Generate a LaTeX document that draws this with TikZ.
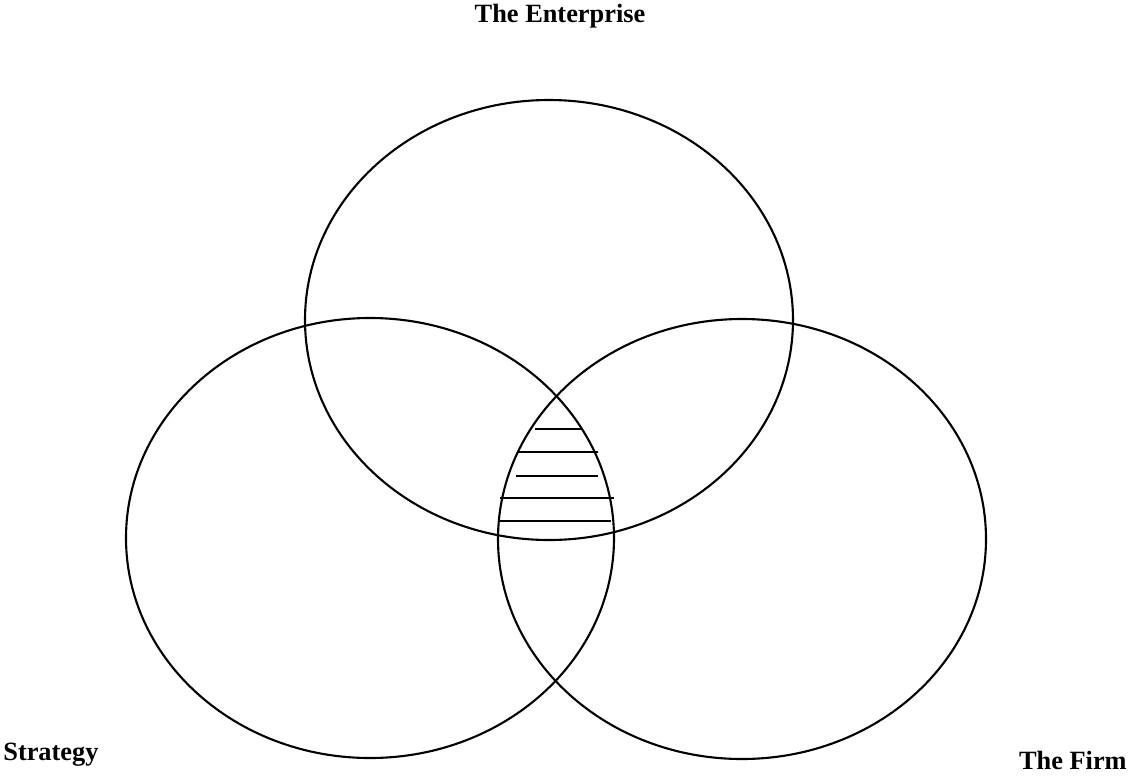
\documentclass[tikz,border=0pt]{standalone}
\usepackage{fontspec}
\setmainfont{Liberation Serif}
\usetikzlibrary{positioning}
\tikzset{
  rotulo/.style={font=\fontsize{15}{17}\selectfont\bfseries, inner sep=0pt},
  contorno/.style={line width=1.2pt},
  hachura/.style={line width=1.2pt}
}
\begin{document}
\begin{tikzpicture}[x=0.02cm, y=-0.02cm]
  \useasboundingbox (0,0) rectangle (1132,778);
  % elipses
  \draw[contorno] (549,320) ellipse (244 and 220);
  \draw[contorno] (370,538) ellipse (244 and 220);
  \draw[contorno] (742,539) ellipse (244 and 220);
  % hachura na intersecao
  \draw[hachura] (535,429) -- (582,429);
  \draw[hachura] (517,452) -- (598,452);
  \draw[hachura] (516,476) -- (598,476);
  \draw[hachura] (500,498) -- (614,498);
  \draw[hachura] (500,521) -- (611,521);
  % rotulos
  \node[rotulo, anchor=base] (empresa) at (560,22) {The Enterprise};
  \node[rotulo, anchor=base west] (estrategia) at (3,760) {Strategy};
  \node[rotulo, anchor=base east] (firma) at (1127,769) {The Firm};
\end{tikzpicture}
\end{document}
